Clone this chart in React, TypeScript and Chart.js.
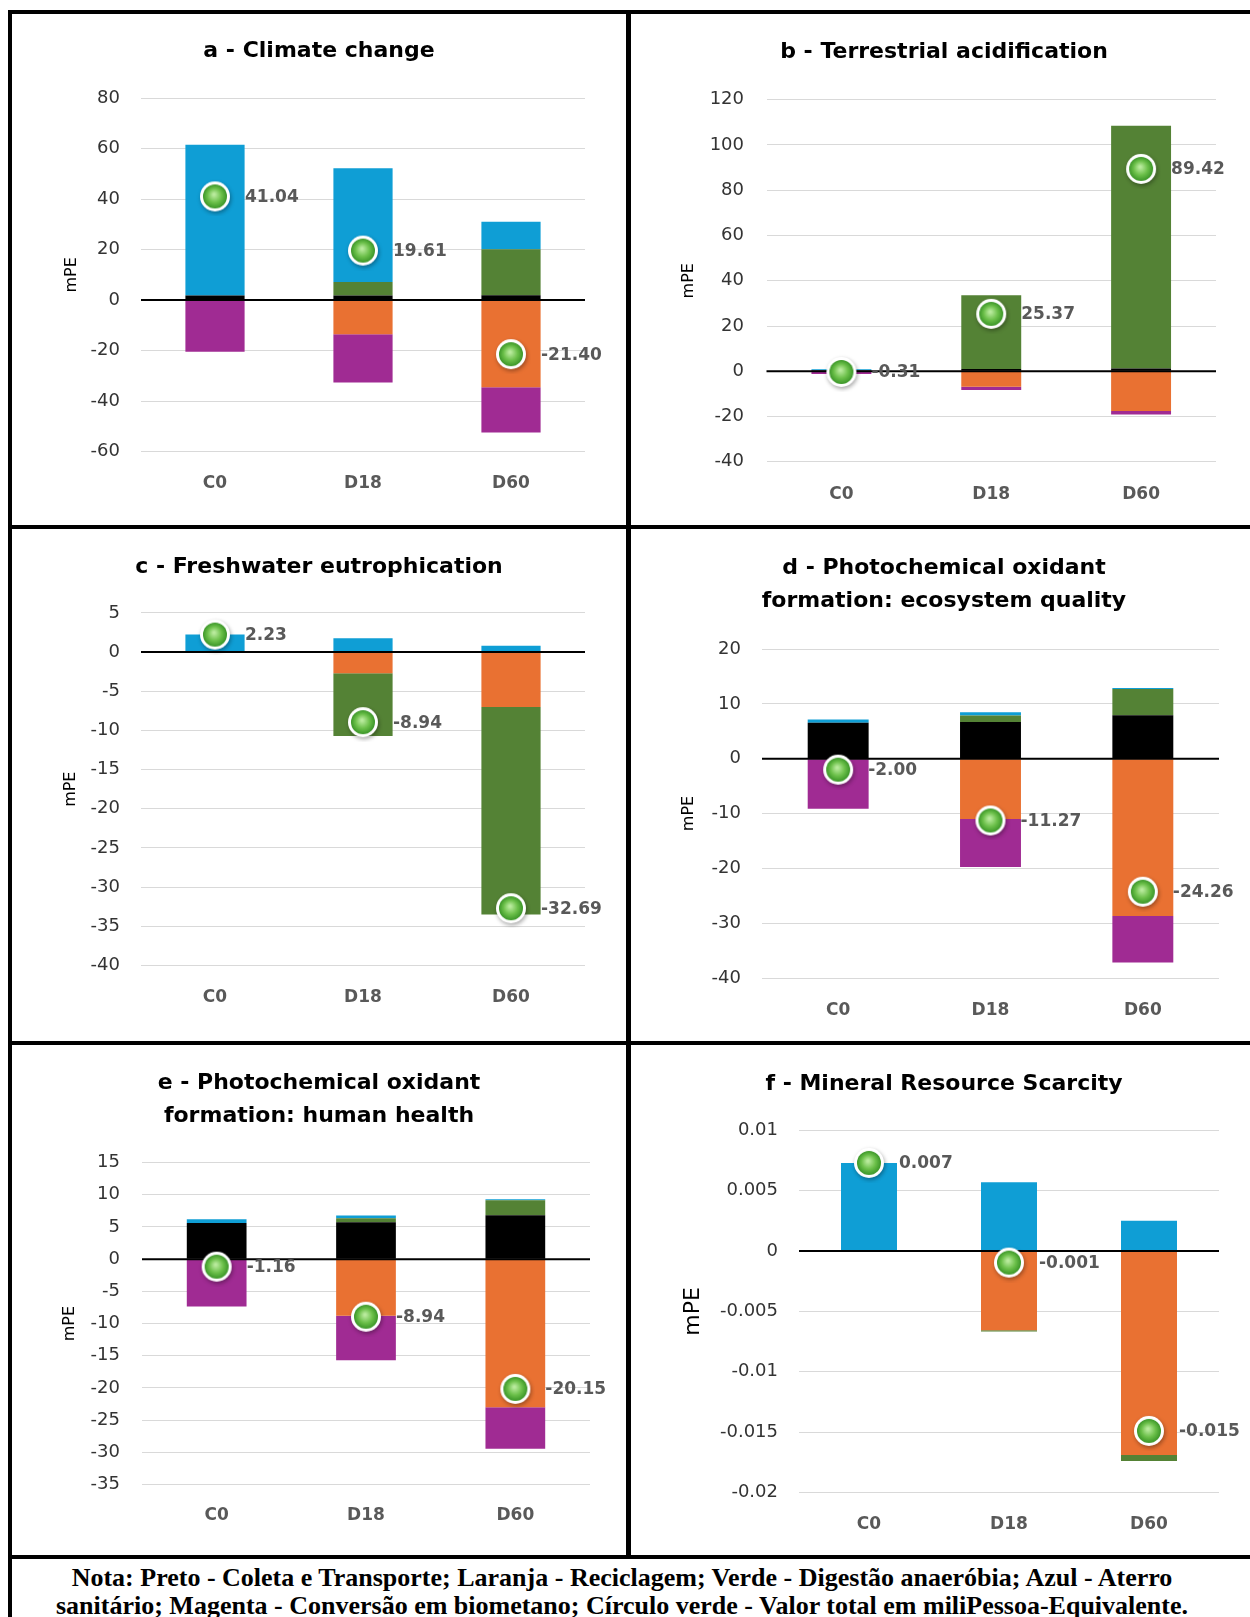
import React, { useEffect, useRef } from "react";
import { Chart, registerables } from "chart.js";

Chart.register(...registerables);

// ---------------- DATA ----------------
const categories = ["C0", "D18", "D60"];

// a - Climate change
const climateTitle = ["a - Climate change"];
const climateTicks = [-60, -40, -20, 0, 20, 40, 60, 80];
const climateBlack = [1.8, 1.8, 1.9];
const climateOrange = [0, -13.5, -34.5];
const climateGreen = [0, 5.4, 18.2];
const climateBlue = [59.7, 45.0, 10.9];
const climateMagenta = [-20.46, -19.09, -17.9];
const climateTotal = [41.04, 19.61, -21.4];

// b - Terrestrial acidification
const acidTitle = ["b - Terrestrial acidification"];
const acidTicks = [-40, -20, 0, 20, 40, 60, 80, 100, 120];
const acidBlack = [0.4, 1.0, 1.2];
const acidOrange = [0, -6.8, -17.5];
const acidGreen = [0, 32.6, 107.3];
const acidBlue = [0.5, 0, 0];
const acidMagenta = [-1.21, -1.43, -1.58];
const acidTotal = [-0.31, 25.37, 89.42];

// c - Freshwater eutrophication
const freshTitle = ["c - Freshwater eutrophication"];
const freshTicks = [-40, -35, -30, -25, -20, -15, -10, -5, 0, 5];
const freshBlack = [0, 0, 0];
const freshOrange = [0, -2.7, -7.0];
const freshGreen = [0, -8.0, -26.49];
const freshBlue = [2.23, 1.76, 0.8];
const freshMagenta = [0, 0, 0];
const freshTotal = [2.23, -8.94, -32.69];

// d - Photochemical oxidant formation: ecosystem quality
const ecoTitle = ["d - Photochemical oxidant", "formation: ecosystem quality"];
const ecoTicks = [-40, -30, -20, -10, 0, 10, 20];
const ecoBlack = [6.55, 6.67, 7.9];
const ecoOrange = [0, -11.0, -28.7];
const ecoGreen = [0, 1.2, 4.8];
const ecoBlue = [0.6, 0.6, 0.2];
const ecoMagenta = [-9.15, -8.74, -8.46];
const ecoTotal = [-2.0, -11.27, -24.26];

// e - Photochemical oxidant formation: human health
const healthTitle = ["e - Photochemical oxidant", "formation: human health"];
const healthTicks = [-35, -30, -25, -20, -15, -10, -5, 0, 5, 10, 15];
const healthBlack = [5.63, 5.74, 6.82];
const healthOrange = [0, -8.8, -23.0];
const healthGreen = [0, 0.62, 2.33];
const healthBlue = [0.57, 0.41, 0.15];
const healthMagenta = [-7.36, -6.91, -6.45];
const healthTotal = [-1.16, -8.94, -20.15];

// f - Mineral Resource Scarcity
const mineralTitle = ["f - Mineral Resource Scarcity"];
const mineralTicks = [-0.02, -0.015, -0.01, -0.005, 0, 0.005, 0.01];
const mineralBlack = [0, 0, 0];
const mineralOrange = [0, -0.00656, -0.0169];
const mineralGreen = [0, -0.0001, -0.0005];
const mineralBlue = [0.0073, 0.0057, 0.0025];
const mineralMagenta = [0, 0, 0];
const mineralTotal = [0.0073, -0.00096, -0.0149];

const yAxisLabel = "mPE";
const noteLine1 =
  "Nota: Preto - Coleta e Transporte; Laranja - Reciclagem; Verde - Digestão anaeróbia; Azul - Aterro";
const noteLine2 =
  "sanitário; Magenta - Conversão em biometano; Círculo verde - Valor total em miliPessoa-Equivalente.";

// ---------------- STYLE ----------------
const COLORS = {
  black: "#000000",
  orange: "#E97132",
  green: "#548235",
  blue: "#0F9ED5",
  magenta: "#A02B93",
};
const FONT = "DejaVu Sans";

type PanelData = {
  title: string[];
  ticks: number[];
  black: number[];
  orange: number[];
  green: number[];
  blue: number[];
  magenta: number[];
  total: number[];
  decimals: number;
};

type PanelLayout = {
  x: number; y: number; w: number; h: number;
  L: number; R: number; T: number; B: number;
  titleY: number; xLabelY: number; tickRight: number; yTitleX: number; yTitleSize: number;
};

const panels: { data: PanelData; layout: PanelLayout }[] = [
  {
    data: { title: climateTitle, ticks: climateTicks, black: climateBlack, orange: climateOrange, green: climateGreen, blue: climateBlue, magenta: climateMagenta, total: climateTotal, decimals: 2 },
    layout: { x: 12, y: 14, w: 614, h: 511, L: 141, R: 585, T: 98, B: 451.7, titleY: 51.5, xLabelY: 480, tickRight: 120, yTitleX: 71.5, yTitleSize: 16 },
  },
  {
    data: { title: acidTitle, ticks: acidTicks, black: acidBlack, orange: acidOrange, green: acidGreen, blue: acidBlue, magenta: acidMagenta, total: acidTotal, decimals: 2 },
    layout: { x: 631, y: 14, w: 626, h: 511, L: 766.5, R: 1216, T: 99.7, B: 461.8, titleY: 52, xLabelY: 491, tickRight: 744, yTitleX: 689, yTitleSize: 16 },
  },
  {
    data: { title: freshTitle, ticks: freshTicks, black: freshBlack, orange: freshOrange, green: freshGreen, blue: freshBlue, magenta: freshMagenta, total: freshTotal, decimals: 2 },
    layout: { x: 12, y: 529, w: 614, h: 512, L: 141, R: 585, T: 612.9, B: 965.5, titleY: 567.5, xLabelY: 993.6, tickRight: 120, yTitleX: 71, yTitleSize: 16 },
  },
  {
    data: { title: ecoTitle, ticks: ecoTicks, black: ecoBlack, orange: ecoOrange, green: ecoGreen, blue: ecoBlue, magenta: ecoMagenta, total: ecoTotal, decimals: 2 },
    layout: { x: 631, y: 529, w: 626, h: 512, L: 762, R: 1219, T: 649, B: 978, titleY: 568.5, xLabelY: 1007, tickRight: 741, yTitleX: 689, yTitleSize: 16 },
  },
  {
    data: { title: healthTitle, ticks: healthTicks, black: healthBlack, orange: healthOrange, green: healthGreen, blue: healthBlue, magenta: healthMagenta, total: healthTotal, decimals: 2 },
    layout: { x: 12, y: 1045, w: 614, h: 510, L: 142, R: 590, T: 1162.6, B: 1484.5, titleY: 1083.5, xLabelY: 1512, tickRight: 120, yTitleX: 70, yTitleSize: 16 },
  },
  {
    data: { title: mineralTitle, ticks: mineralTicks, black: mineralBlack, orange: mineralOrange, green: mineralGreen, blue: mineralBlue, magenta: mineralMagenta, total: mineralTotal, decimals: 3 },
    layout: { x: 631, y: 1045, w: 626, h: 510, L: 799, R: 1219, T: 1130.3, B: 1492.5, titleY: 1084, xLabelY: 1521, tickRight: 778, yTitleX: 693, yTitleSize: 22 },
  },
];

let dotCache: HTMLCanvasElement | null = null;
function makeDot(): HTMLCanvasElement {
  if (dotCache) return dotCache;
  const c = document.createElement("canvas");
  c.width = 40;
  c.height = 40;
  const g = c.getContext("2d")!;
  g.shadowColor = "rgba(0,0,0,0.35)";
  g.shadowBlur = 4;
  g.shadowOffsetX = 1;
  g.shadowOffsetY = 2;
  g.fillStyle = "#ffffff";
  g.beginPath();
  g.arc(20, 20, 15, 0, Math.PI * 2);
  g.fill();
  g.shadowColor = "transparent";
  g.shadowBlur = 0;
  g.shadowOffsetX = 0;
  g.shadowOffsetY = 0;
  const grad = g.createRadialGradient(19, 18, 1, 20, 20, 12);
  grad.addColorStop(0, "#b8ea9c");
  grad.addColorStop(0.55, "#6cc04a");
  grad.addColorStop(1, "#3b9628");
  g.fillStyle = grad;
  g.beginPath();
  g.arc(20, 20, 12, 0, Math.PI * 2);
  g.fill();
  dotCache = c;
  return c;
}

const TOTAL_INDEX = 5;

function fmtTick(v: any) {
  const n = Number(v);
  return String(parseFloat(n.toFixed(6)));
}

function buildConfig(d: PanelData, l: PanelLayout): any {
  const titleSize = 22;
  const titleLH = titleSize * 1.5;
  const lines = d.title.length;
  const plotLeft = l.L - l.x;
  const plotRight = l.R - l.x;
  const plotTop = l.T - l.y;
  const plotBottom = l.B - l.y;
  const sidePad = l.w - plotRight; // symmetric padding keeps the title centred on the cell
  const titlePadTop = l.titleY - l.y - titleLH / 2;
  const titlePadBottom = plotTop - titlePadTop - lines * titleLH;
  const xAxisHeight = l.h - plotBottom;
  const xFont = 17;
  const xTickPad = l.xLabelY - l.B - (xFont * 1.2) / 2 + 4;
  const yTickPad = l.L - l.tickRight;
  const yTitlePad = l.yTitleX - l.x - sidePad - (l.yTitleSize * 1.2) / 2;
  const labels = d.total.map((v) => v.toFixed(d.decimals));

  const bar = (label: string, data: number[], color: string) => ({
    type: "bar",
    label,
    data,
    backgroundColor: color,
    borderWidth: 0,
    stack: "main",
    order: 1,
    categoryPercentage: 1,
    barPercentage: 0.4,
  });

  const overlay = {
    id: "overlay",
    beforeDatasetDraw(chart: any, args: any) {
      if (args.index !== TOTAL_INDEX) return;
      const ctx = chart.ctx;
      const area = chart.chartArea;
      const y0 = chart.scales.y.getPixelForValue(0);
      ctx.save();
      ctx.strokeStyle = "#000";
      ctx.lineWidth = 2;
      ctx.beginPath();
      ctx.moveTo(area.left, y0);
      ctx.lineTo(area.right, y0);
      ctx.stroke();
      ctx.restore();
    },
    afterDatasetsDraw(chart: any) {
      const ctx = chart.ctx;
      const meta = chart.getDatasetMeta(TOTAL_INDEX);
      ctx.save();
      ctx.font = `bold 17px "${FONT}"`;
      ctx.fillStyle = "#595959";
      ctx.textAlign = "left";
      ctx.textBaseline = "middle";
      meta.data.forEach((pt: any, i: number) => {
        ctx.fillText(labels[i], pt.x + 30, pt.y + 1);
      });
      ctx.restore();
    },
  };

  return {
    type: "bar",
    data: {
      labels: categories,
      datasets: [
        bar("Coleta e Transporte", d.black, COLORS.black),
        bar("Reciclagem", d.orange, COLORS.orange),
        bar("Digestão anaeróbia", d.green, COLORS.green),
        bar("Aterro sanitário", d.blue, COLORS.blue),
        bar("Conversão em biometano", d.magenta, COLORS.magenta),
        {
          type: "line",
          label: "Total",
          data: d.total,
          showLine: false,
          stack: "total",
          order: 0,
          pointStyle: makeDot(),
          pointRadius: 15,
          pointHoverRadius: 15,
          clip: false,
        },
      ],
    },
    options: {
      responsive: false,
      animation: false,
      devicePixelRatio: 1,
      events: [],
      layout: { padding: { left: sidePad, right: sidePad, top: 0, bottom: 0 } },
      plugins: {
        legend: { display: false },
        tooltip: { enabled: false },
        title: {
          display: true,
          text: d.title,
          color: "#000",
          font: { family: FONT, size: titleSize, weight: "bold", lineHeight: 1.5 },
          padding: { top: titlePadTop, bottom: titlePadBottom },
        },
      },
      scales: {
        x: {
          stacked: true,
          offset: true,
          grid: { display: false, drawTicks: false },
          border: { display: false },
          afterFit: (scale: any) => {
            scale.height = xAxisHeight;
          },
          ticks: {
            padding: xTickPad,
            color: "#595959",
            font: { family: FONT, size: xFont, weight: "bold" },
          },
        },
        y: {
          stacked: true,
          min: d.ticks[0],
          max: d.ticks[d.ticks.length - 1],
          afterBuildTicks: (scale: any) => {
            scale.ticks = d.ticks.map((v) => ({ value: v }));
          },
          afterFit: (scale: any) => {
            scale.width = plotLeft - sidePad;
          },
          border: { display: false },
          grid: { color: "#d9d9d9", lineWidth: 1, drawTicks: false },
          ticks: {
            padding: yTickPad,
            color: "#333333",
            font: { family: FONT, size: 18 },
            callback: fmtTick,
          },
          title: {
            display: true,
            text: yAxisLabel,
            color: "#000",
            font: { family: FONT, size: l.yTitleSize },
            padding: { top: yTitlePad, bottom: 0 },
          },
        },
      },
    },
    plugins: [overlay],
  };
}

function Panel({ data, layout }: { data: PanelData; layout: PanelLayout }) {
  const ref = useRef<HTMLCanvasElement>(null);
  useEffect(() => {
    if (!ref.current) return;
    const chart = new Chart(ref.current, buildConfig(data, layout));
    return () => chart.destroy();
  }, []);
  return (
    <canvas
      ref={ref}
      width={layout.w}
      height={layout.h}
      style={{ position: "absolute", left: layout.x, top: layout.y, width: layout.w, height: layout.h }}
    />
  );
}

const lineStyle = (left: number, top: number, width: number, height: number): React.CSSProperties => ({
  position: "absolute",
  left,
  top,
  width,
  height,
  background: "#000",
});

export default function App() {
  return (
    <div
      style={{
        position: "absolute",
        left: 0,
        top: 0,
        width: 1250,
        height: 1617,
        overflow: "hidden",
        background: "#fff",
      }}
    >
      {panels.map((p, i) => (
        <Panel key={i} data={p.data} layout={p.layout} />
      ))}
      {/* frame lines */}
      <div style={lineStyle(8, 10, 1260, 4)} />
      <div style={lineStyle(8, 10, 4, 1620)} />
      <div style={lineStyle(626, 10, 5, 1549)} />
      <div style={lineStyle(8, 525, 1260, 4)} />
      <div style={lineStyle(8, 1041, 1260, 4)} />
      <div style={lineStyle(8, 1555, 1260, 4)} />
      <div
        style={{
          position: "absolute",
          left: 0,
          top: 1564,
          width: 1244,
          fontFamily: '"Liberation Serif", serif',
          fontWeight: "bold",
          fontSize: 26,
          lineHeight: "28px",
          textAlign: "center",
          color: "#000",
        }}
      >
        <div style={{ whiteSpace: "nowrap" }}>{noteLine1}</div>
        <div style={{ whiteSpace: "nowrap" }}>{noteLine2}</div>
      </div>
    </div>
  );
}
